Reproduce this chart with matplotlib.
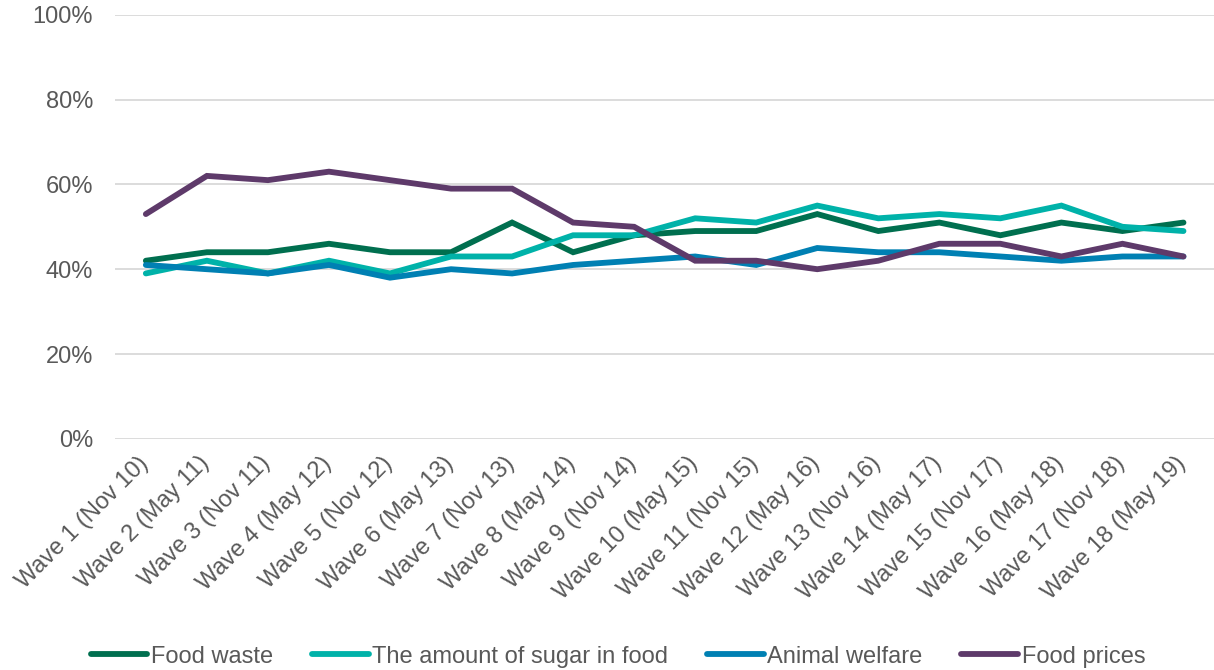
import matplotlib.pyplot as plt
from matplotlib.ticker import PercentFormatter
from matplotlib.transforms import ScaledTranslation

plt.rcParams['font.family'] = ['Liberation Sans', 'DejaVu Sans']

waves = ['Wave 1 (Nov 10)', 'Wave 2 (May 11)', 'Wave 3 (Nov 11)', 'Wave 4 (May 12)',
         'Wave 5 (Nov 12)', 'Wave 6 (May 13)', 'Wave 7 (Nov 13)', 'Wave 8 (May 14)',
         'Wave 9 (Nov 14)', 'Wave 10 (May 15)', 'Wave 11 (Nov 15)', 'Wave 12 (May 16)',
         'Wave 13 (Nov 16)', 'Wave 14 (May 17)', 'Wave 15 (Nov 17)', 'Wave 16 (May 18)',
         'Wave 17 (Nov 18)', 'Wave 18 (May 19)']

food_waste = [42, 44, 44, 46, 44, 44, 51, 44, 48, 49, 49, 53, 49, 51, 48, 51, 49, 51]
sugar = [39, 42, 39, 42, 39, 43, 43, 48, 48, 52, 51, 55, 52, 53, 52, 55, 50, 49]
animal_welfare = [41, 40, 39, 41, 38, 40, 39, 41, 42, 43, 41, 45, 44, 44, 43, 42, 43, 43]
food_prices = [53, 62, 61, 63, 61, 59, 59, 51, 50, 42, 42, 40, 42, 46, 46, 43, 46, 43]

series = [
    ('Food waste', food_waste, '#006F4F'),
    ('The amount of sugar in food', sugar, '#00B2A9'),
    ('Animal welfare', animal_welfare, '#0080B3'),
    ('Food prices', food_prices, '#5E3A6A'),
]

fig = plt.figure(figsize=(12.14, 6.7), dpi=100)
ax = fig.add_axes([0.095, 0.345, 0.905, 0.633])

x = range(len(waves))
for name, vals, col in series:
    ax.plot(x, vals, color=col, lw=4.2, label=name, solid_capstyle='round',
            solid_joinstyle='miter')

ax.set_xlim(-0.5, len(waves) - 0.5)
ax.set_ylim(0, 100)
ax.set_yticks(range(0, 101, 20))
ax.yaxis.set_major_formatter(PercentFormatter(decimals=0))
ax.set_xticks(list(x))
ax.set_xticklabels(waves, rotation=45, ha='right', rotation_mode='anchor')

ax.grid(axis='y', color='#D9D9D9', lw=1.3)
ax.set_axisbelow(True)
for s in ax.spines.values():
    s.set_visible(False)
ax.tick_params(length=0, labelsize=17, colors='#595959')
ax.tick_params(axis='y', pad=16)
ax.tick_params(axis='x', pad=6)

# nudge the slanted wave labels a little left and down
shift = ScaledTranslation(-0.09, -0.05, fig.dpi_scale_trans)
for lab in ax.get_xticklabels():
    lab.set_transform(lab.get_transform() + shift)

fig.legend(loc='lower center', bbox_to_anchor=(0.509, -0.028), ncol=4, frameon=False,
           fontsize=17, handlelength=2.4, handletextpad=0.15, columnspacing=1.65,
           labelcolor='#595959')

fig.savefig('out.png', dpi=100)
